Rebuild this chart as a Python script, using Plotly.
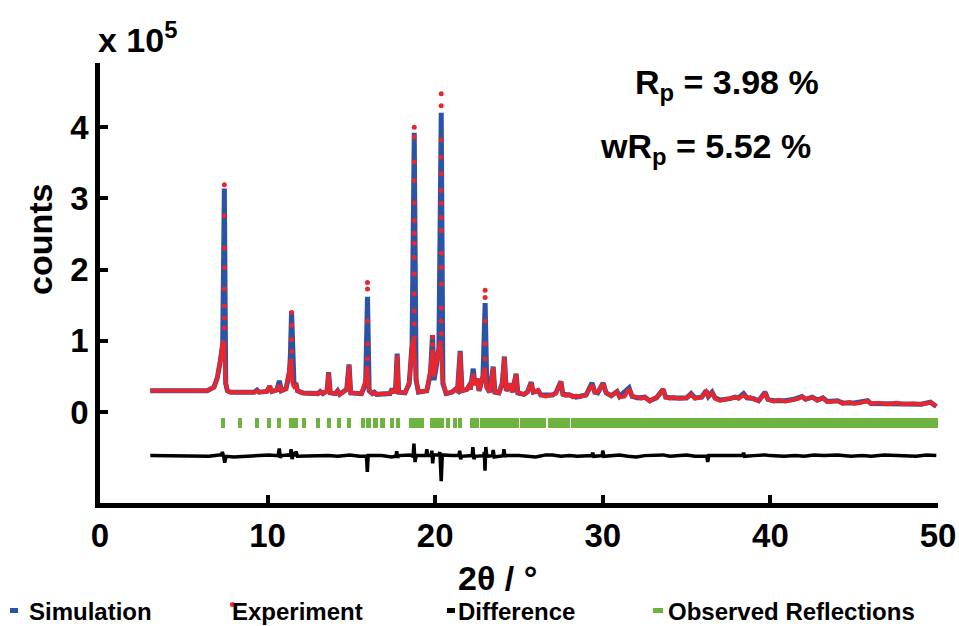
import plotly.graph_objects as go

# ---------------- data (2theta in degrees, counts in units of 1e5) ----------------
sim_x = [3.0, 6.4, 6.8, 7.0, 7.18, 7.32, 7.42, 7.50, 7.6, 7.8, 9.2, 9.37, 9.5, 9.95, 10.12, 10.25,
         10.55, 10.70, 10.82, 11.1, 11.30, 11.36, 11.43, 11.50, 11.58, 11.69, 11.78, 12.1, 13.0, 13.14,
         13.3, 13.55, 13.64, 13.74, 14.05, 14.18, 14.3, 14.72, 14.86, 14.96, 15.6, 15.85, 15.96, 16.06,
         16.25, 16.37, 16.5, 17.3, 17.43, 17.55, 17.64, 17.73, 17.82, 18.2, 18.45, 18.62, 18.75, 18.86,
         19.0, 19.5, 19.72, 19.84, 19.93, 20.1, 20.22, 20.36, 20.46, 20.65, 21.0, 21.2, 21.33, 21.49,
         21.6, 21.9, 22.0, 22.1, 22.27, 22.37, 22.5, 22.62, 22.85, 22.98, 23.08, 23.25, 23.46, 23.56,
         23.8, 24.0, 24.13, 24.24, 24.47, 24.6, 24.83, 24.93, 25.3, 25.5, 25.73, 25.85, 26.15, 26.3,
         27.0, 27.2, 27.5, 27.62, 28.0, 28.4, 28.8, 29.0, 29.36, 29.52, 29.7, 30.02, 30.2, 30.5, 30.85,
         31.0, 31.57, 31.75, 32.1, 32.5, 32.8, 33.2, 33.6, 33.75, 34.2, 35.0, 35.27, 35.5, 35.9, 36.16,
         36.3, 36.52, 36.7, 37.0, 37.6, 37.9, 38.1, 38.4, 38.6, 39.0, 39.3, 39.68, 39.85, 40.2, 40.9,
         41.4, 41.88, 42.1, 42.5, 42.8, 43.13, 43.4, 44.0, 44.3, 45.0, 45.8, 46.0, 47.5, 49.0, 49.55, 49.9]
sim_y = [0.30, 0.30, 0.35, 0.48, 0.72, 0.95, 3.14, 0.40, 0.30, 0.28, 0.28, 0.31, 0.28, 0.29, 0.36, 0.29,
         0.31, 0.44, 0.30, 0.33, 0.55, 0.80, 1.42, 0.45, 0.36, 0.41, 0.30, 0.27, 0.26, 0.29,
         0.26, 0.30, 0.56, 0.27, 0.26, 0.30, 0.25, 0.32, 0.67, 0.27, 0.26, 0.40, 1.62, 0.30,
         0.26, 0.28, 0.25, 0.26, 0.33, 0.27, 0.35, 0.82, 0.28, 0.27, 0.40, 0.95, 3.92, 0.45,
         0.28, 0.30, 0.55, 1.08, 0.45, 0.70, 0.90, 4.20, 0.40, 0.26, 0.28, 0.32, 0.30, 0.86,
         0.30, 0.32, 0.36, 0.32, 0.61, 0.38, 0.47, 0.30, 0.50, 1.53, 0.35, 0.28, 0.64, 0.28,
         0.27, 0.40, 0.78, 0.30, 0.40, 0.28, 0.54, 0.27, 0.25, 0.28, 0.42, 0.28, 0.30, 0.24,
         0.24, 0.27, 0.43, 0.25, 0.24, 0.21, 0.22, 0.24, 0.41, 0.28, 0.27, 0.41, 0.27, 0.23, 0.29,
         0.22, 0.34, 0.22, 0.20, 0.21, 0.16, 0.20, 0.32, 0.21, 0.20, 0.20, 0.26, 0.20, 0.21, 0.30,
         0.22, 0.28, 0.20, 0.17, 0.19, 0.21, 0.20, 0.26, 0.20, 0.19, 0.16, 0.28, 0.18, 0.16, 0.16,
         0.18, 0.22, 0.18, 0.21, 0.17, 0.20, 0.15, 0.16, 0.13, 0.13, 0.16, 0.12, 0.12, 0.11, 0.14, 0.08]

exp_x = [3.0, 4.5, 6.4, 6.8, 7.0, 7.18, 7.30, 7.40, 7.48, 7.6, 7.8, 9.2, 9.37, 9.5, 9.95, 10.12, 10.25,
         10.55, 10.70, 10.82, 11.1, 11.30, 11.40, 11.48, 11.58, 11.69, 11.78, 12.1, 13.0, 13.14, 13.3,
         13.55, 13.64, 13.74, 14.05, 14.18, 14.3, 14.72, 14.86, 14.96, 15.6, 15.85, 15.94, 16.04, 16.25,
         16.37, 16.5, 17.3, 17.43, 17.55, 17.64, 17.73, 17.82, 18.2, 18.45, 18.62, 18.72, 18.84, 19.0,
         19.5, 19.72, 19.84, 19.93, 20.1, 20.22, 20.32, 20.44, 20.65, 21.0, 21.2, 21.33, 21.49, 21.6,
         21.9, 22.0, 22.1, 22.27, 22.37, 22.5, 22.62, 22.85, 22.96, 23.06, 23.25, 23.46, 23.56, 23.8,
         24.0, 24.13, 24.24, 24.47, 24.6, 24.83, 24.93, 25.3, 25.5, 25.73, 25.85, 26.15, 26.3, 26.6,
         27.0, 27.2, 27.5, 27.62, 27.8, 28.0, 28.2, 28.4, 28.6, 28.8, 29.0, 29.36, 29.52, 29.7, 30.02,
         30.2, 30.5, 30.85, 31.0, 31.3, 31.57, 31.75, 32.1, 32.3, 32.5, 32.8, 33.0, 33.2, 33.6, 33.75,
         34.0, 34.2, 34.6, 35.0, 35.27, 35.5, 35.9, 36.16, 36.3, 36.52, 36.7, 37.0, 37.3, 37.6, 37.9,
         38.1, 38.4, 38.6, 38.8, 39.0, 39.3, 39.68, 39.85, 40.2, 40.5, 40.9, 41.4, 41.7, 41.88, 42.1,
         42.5, 42.8, 43.13, 43.4, 43.7, 44.0, 44.3, 44.7, 45.0, 45.4, 45.8, 46.0, 46.5, 47.0, 47.5,
         48.0, 48.5, 49.0, 49.3, 49.55, 49.9]
exp_y = [0.30, 0.30, 0.30, 0.35, 0.49, 0.73, 0.96, 1.00, 0.45, 0.30, 0.28, 0.28, 0.30, 0.28, 0.29, 0.37, 0.29,
         0.31, 0.38, 0.30, 0.33, 0.60, 0.75, 0.42, 0.36, 0.38, 0.30, 0.27, 0.26, 0.29, 0.26,
         0.30, 0.55, 0.27, 0.26, 0.30, 0.25, 0.32, 0.66, 0.27, 0.26, 0.45, 0.65, 0.32, 0.26,
         0.27, 0.25, 0.26, 0.32, 0.27, 0.35, 0.80, 0.28, 0.27, 0.42, 0.96, 1.00, 0.50, 0.28,
         0.30, 0.60, 0.88, 0.50, 0.76, 0.92, 1.00, 0.45, 0.26, 0.28, 0.32, 0.30, 0.84, 0.30,
         0.32, 0.36, 0.32, 0.54, 0.38, 0.47, 0.30, 0.52, 0.62, 0.35, 0.28, 0.63, 0.28, 0.27,
         0.40, 0.77, 0.30, 0.40, 0.28, 0.53, 0.27, 0.25, 0.28, 0.41, 0.28, 0.31, 0.24, 0.22,
         0.24, 0.26, 0.43, 0.25, 0.23, 0.25, 0.21, 0.23, 0.21, 0.23, 0.24, 0.38, 0.28, 0.28, 0.40,
         0.27, 0.23, 0.29, 0.21, 0.22, 0.33, 0.22, 0.21, 0.19, 0.21, 0.15, 0.19, 0.20, 0.32, 0.21,
         0.19, 0.21, 0.19, 0.20, 0.25, 0.19, 0.21, 0.29, 0.22, 0.27, 0.19, 0.16, 0.18, 0.19, 0.21,
         0.19, 0.24, 0.20, 0.21, 0.18, 0.16, 0.26, 0.18, 0.15, 0.17, 0.15, 0.18, 0.19, 0.22, 0.18,
         0.21, 0.16, 0.20, 0.14, 0.15, 0.16, 0.12, 0.14, 0.12, 0.13, 0.16, 0.12, 0.13, 0.11, 0.13,
         0.11, 0.12, 0.11, 0.12, 0.14, 0.08]

# measured points on the steep flanks of the strongest reflections
exp_peak_x = [7.42] * 8 + [11.43] * 4 + [15.96] * 5 + [18.75] * 14 + [19.84] * 2 + [20.36] * 15 + [22.98] * 5
exp_peak_y = [3.19, 2.76, 2.30, 2.03, 1.73, 1.49, 1.32, 1.18,
              1.40, 1.22, 1.02, 0.85,
              1.82, 1.73, 1.28, 0.96, 0.75,
              4.00, 3.86, 3.51, 3.25, 2.94, 2.69, 2.51, 2.37, 2.17, 1.94, 1.66, 1.42, 1.24, 1.04,
              1.05, 0.95,
              4.47, 4.30, 3.82, 3.58, 3.35, 3.11, 2.93, 2.73, 2.55, 2.23, 2.03, 1.80, 1.46, 1.28, 1.10,
              1.71, 1.61, 1.28, 0.96, 0.75]

diff_x = [3.0, 6.5, 7.1, 7.25, 7.3, 7.38, 7.44, 7.52, 8.0, 9.4, 10.1, 10.62, 10.70, 10.76, 10.82,
          11.3, 11.36, 11.40, 11.46, 11.52, 11.58, 11.64, 11.70, 11.78, 12.6, 13.6, 14.2, 14.9, 15.5,
          15.90, 15.95, 16.00, 16.8, 17.4, 17.66, 17.70, 17.76, 17.82, 18.5, 18.68, 18.73, 18.80, 18.86,
          19.45, 19.50, 19.55, 19.76, 19.80, 19.85, 19.90, 20.22, 20.28, 20.36, 20.42, 21.0, 21.42,
          21.46, 21.52, 21.57, 22.2, 22.25, 22.31, 22.37, 22.9, 22.93, 22.97, 23.02, 23.08, 23.42, 23.46,
          23.52, 24.06, 24.10, 24.16, 24.2, 25.0, 25.6, 26.0, 26.6, 27.0, 27.5, 28.0, 28.5, 29.34, 29.4,
          29.46, 29.96, 30.0, 30.06, 30.6, 31.0, 31.5, 32.0, 32.5, 33.0, 33.6, 34.0, 34.5, 35.0, 35.5,
          36.2, 36.26, 36.32, 36.4, 37.0, 37.6, 38.35, 38.4, 38.46, 39.0, 39.7, 40.0, 40.8, 41.5, 42.0,
          42.6, 43.2, 44.0, 44.8, 45.5, 46.0, 46.8, 47.5, 48.0, 48.7, 49.3, 49.9]
diff_y = [-0.61, -0.62, -0.60, -0.60, -0.56, -0.62, -0.71, -0.62, -0.63, -0.61, -0.60, -0.61, -0.51, -0.64, -0.61,
          -0.60, -0.61, -0.52, -0.66, -0.60, -0.56, -0.62, -0.55, -0.62, -0.61, -0.61, -0.62, -0.60, -0.62,
          -0.62, -0.84, -0.61, -0.61, -0.63, -0.62, -0.55, -0.64, -0.61, -0.60, -0.62, -0.44, -0.70, -0.61,
          -0.61, -0.52, -0.61, -0.61, -0.54, -0.72, -0.60, -0.60, -0.56, -0.97, -0.60, -0.61, -0.61,
          -0.54, -0.66, -0.62, -0.61, -0.49, -0.66, -0.62, -0.61, -0.56, -0.82, -0.49, -0.62, -0.61, -0.53,
          -0.63, -0.61, -0.52, -0.63, -0.61, -0.61, -0.62, -0.63, -0.60, -0.60, -0.62, -0.61, -0.62, -0.61, -0.57,
          -0.62, -0.61, -0.54, -0.62, -0.61, -0.60, -0.62, -0.63, -0.61, -0.61, -0.60, -0.62, -0.61, -0.60, -0.62,
          -0.62, -0.70, -0.61, -0.61, -0.61, -0.62, -0.61, -0.57, -0.62, -0.61, -0.60, -0.61, -0.62, -0.61, -0.62,
          -0.60, -0.61, -0.60, -0.62, -0.61, -0.62, -0.60, -0.61, -0.61, -0.62, -0.60, -0.61]

# reflection positions: single markers and runs of overlapping markers
refl_single = [7.36, 8.37, 9.39, 10.10, 10.70, 11.42, 11.56, 11.70, 12.19, 13.02, 13.68, 14.27, 14.87,
               15.68, 16.02, 16.44, 16.86, 17.43, 17.79, 20.78, 21.19, 21.49]
refl_band_start = [18.57, 19.82, 22.20, 22.80, 23.82, 25.19, 25.61, 26.86, 27.45, 28.23, 28.88, 29.78,
                   30.38, 31.51, 31.87, 34.43, 35.21, 36.94, 37.36, 39.27, 40.57]
refl_band_end = [19.23, 20.42, 22.50, 23.58, 24.89, 25.55, 26.50, 27.33, 27.93, 28.77, 29.54, 30.26,
                 31.39, 31.75, 34.31, 34.97, 36.82, 37.12, 39.15, 40.45, 49.87]
refl_level = -0.155   # vertical centre of the reflection markers

x_tick_vals = [0, 10, 20, 30, 40, 50]
y_tick_vals = [0, 1, 2, 3, 4]
y_tick_text = ["0", "1", "2", "3", "4"]

# ---------------- style ----------------
BLUE = "#2c54a6"
RED = "#e8262d"
GREEN = "#6cb33f"
FONT = "Liberation Sans, Arial, sans-serif"
TICK_W = 0.25
MARK_H = 0.14

bar_x = refl_single + [(a + b) / 2 for a, b in zip(refl_band_start, refl_band_end)]
bar_w = [TICK_W] * len(refl_single) + [b - a + TICK_W for a, b in zip(refl_band_start, refl_band_end)]

fig = go.Figure()
fig.add_trace(go.Bar(x=bar_x, y=[MARK_H] * len(bar_x), base=refl_level - MARK_H / 2, width=bar_w,
                     marker=dict(color=GREEN, line=dict(width=0)), name="Observed Reflections"))
fig.add_trace(go.Scatter(x=diff_x, y=diff_y, mode="lines", line=dict(color="black", width=3.5),
                         name="Difference"))
fig.add_trace(go.Scatter(x=sim_x, y=sim_y, mode="lines", line=dict(color=BLUE, width=5),
                         name="Simulation"))
fig.add_trace(go.Scatter(x=exp_x, y=exp_y, mode="lines", line=dict(color=RED, width=4),
                         name="Experiment"))
fig.add_trace(go.Scatter(x=exp_peak_x, y=exp_peak_y, mode="markers",
                         marker=dict(color=RED, size=5, line=dict(width=0)), name="Experiment points"))

W, H = 959, 626
L, R, T, B = 100, 21, 63, 123
pw, ph = W - L - R, H - T - B


def px(x):
    return (x - L) / pw


def py(y):
    return (H - B - y) / ph


axis_common = dict(showline=True, linecolor="black", linewidth=4.5, ticks="inside", ticklen=8,
                   tickwidth=4, tickcolor="black", showgrid=False, zeroline=False,
                   tickfont=dict(family=FONT, size=33, color="black", weight="bold"))

fig.update_layout(
    width=W, height=H, margin=dict(l=L, r=R, t=T, b=B, autoexpand=False),
    paper_bgcolor="white", plot_bgcolor="white", showlegend=False, bargap=0,
    xaxis=dict(range=[0, 50], tickvals=x_tick_vals, **axis_common),
    yaxis=dict(range=[-1.275, 4.90], tickvals=y_tick_vals, ticktext=y_tick_text, **axis_common),
)

big = dict(family=FONT, size=34, color="black", weight="bold")
leg = dict(family=FONT, size=24, color="black", weight="bold")
ann = [
    dict(text="counts", x=px(40), y=py(240), textangle=-90, font=big),
    dict(text="2θ / °", x=px(497), y=py(578), font=big),
    dict(text="x 10<sup>5</sup>", x=px(96), y=py(38), xanchor="left", font=big),
    dict(text="R<sub>p</sub> = 3.98 %", x=px(633), y=py(84), xanchor="left", font=big),
    dict(text="wR<sub>p</sub> = 5.52 %", x=px(598), y=py(148), xanchor="left", font=big),
    dict(text="Simulation", x=px(27), y=py(611), xanchor="left", font=leg),
    dict(text="Experiment", x=px(230), y=py(611), xanchor="left", font=leg),
    dict(text="Difference", x=px(456), y=py(611), xanchor="left", font=leg),
    dict(text="Observed Reflections", x=px(666), y=py(611), xanchor="left", font=leg),
]
for a in ann:
    a.setdefault("xanchor", "center")
    a.setdefault("yanchor", "middle")
    fig.add_annotation(xref="paper", yref="paper", showarrow=False, **a)

# legend swatches (short dashes / dot) in front of the legend texts
for x0, x1, col in [(10, 18, BLUE), (447, 455, "black"), (653, 663, GREEN)]:
    fig.add_shape(type="rect", xref="paper", yref="paper", x0=px(x0), x1=px(x1), y0=py(613), y1=py(608),
                  fillcolor=col, line=dict(width=0))
fig.add_shape(type="circle", xref="paper", yref="paper", x0=px(230), x1=px(235), y0=py(607), y1=py(602),
              fillcolor=RED, line=dict(width=0))

fig.write_html("out.html", config={"displayModeBar": False},
               post_script="document.body.style.margin='0px';document.body.style.padding='0px';"
                           "document.body.style.overflow='hidden';")
